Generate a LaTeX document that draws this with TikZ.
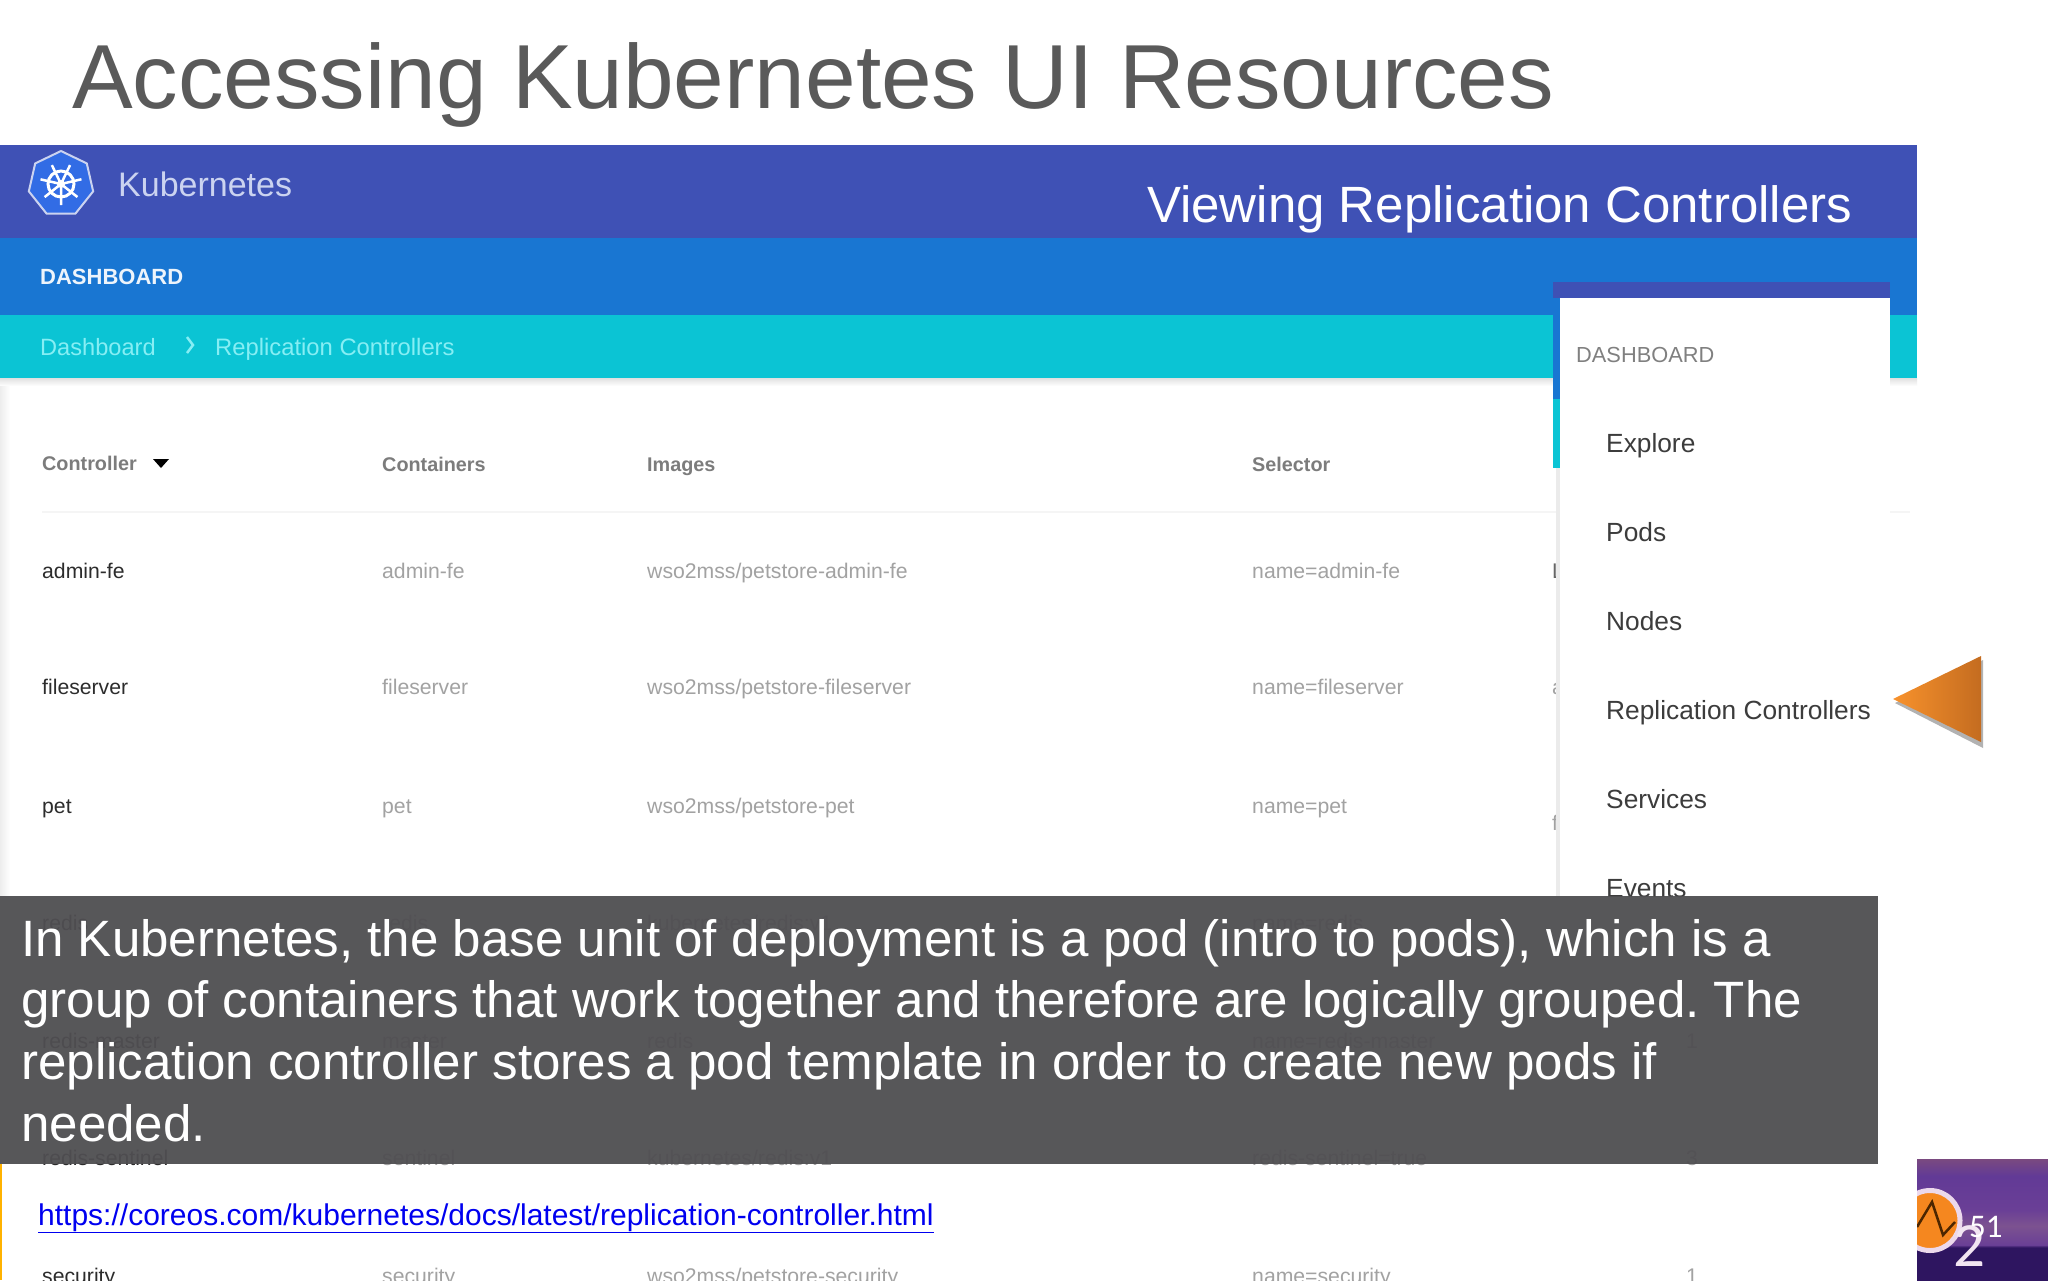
\documentclass[tikz,border=0pt]{standalone}
\usepackage{fontspec}
\setmainfont{Liberation Sans}
\newfontfamily\slidenum{Carlito}
\usetikzlibrary{shapes.geometric,positioning}
\definecolor{barpurple}{HTML}{3F51B5}
\definecolor{barblue}{HTML}{1976D2}
\definecolor{barteal}{HTML}{0BC4D4}
\definecolor{crumb}{HTML}{86EEF4}
\definecolor{capgray}{HTML}{4F4E51}
\definecolor{linkblue}{HTML}{0000F0}
\definecolor{titlegray}{HTML}{5A5A5A}
\definecolor{kubeblue}{HTML}{326CE5}
\definecolor{kubetext}{HTML}{CBD3F0}
\definecolor{rowdark}{HTML}{2C2C2C}
\definecolor{rowgray}{HTML}{A2A2A2}
\definecolor{headgray}{HTML}{7C7C7C}
\definecolor{menutext}{HTML}{3C3C3C}
\definecolor{arrowlight}{HTML}{F8922C}
\definecolor{arrowdark}{HTML}{C46C20}
\definecolor{ringorange}{HTML}{F5871F}
\definecolor{wsodeep}{HTML}{2E1560}
\definecolor{wsomid}{HTML}{6A3F96}
\definecolor{wsoband}{HTML}{7C5290}
\definecolor{wsoviolet}{HTML}{623A96}
\definecolor{wsotop}{HTML}{7A4A80}
\pgfdeclareverticalshading{wsobar}{100bp}{
  color(0bp)=(wsodeep); color(38.5bp)=(wsodeep); color(39.5bp)=(wsomid);
  color(47.5bp)=(wsoband); color(54bp)=(wsomid); color(68bp)=(wsoviolet); color(75bp)=(wsotop); color(100bp)=(wsotop)}
\tikzset{
  headcell/.style={anchor=base west, inner sep=0pt, text=headgray, font=\fontsize{19.8}{24}\selectfont\bfseries},
  namecell/.style={anchor=base west, inner sep=0pt, text=rowdark, font=\fontsize{21.2}{24}\selectfont},
  rowcell/.style={anchor=base west, inner sep=0pt, text=rowgray, font=\fontsize{21.2}{24}\selectfont},
  menuitem/.style={anchor=base west, inner sep=0pt, text=menutext, font=\fontsize{26.3}{30}\selectfont},
}
\begin{document}
\frenchspacing
\begin{tikzpicture}[x=1pt, y=-1pt]
\useasboundingbox (0,0) rectangle (2048,1280);
\clip (0,0) rectangle (2048,1280);
\fill [white] (0,0) rectangle (2048,1280);
% title
\node (title) [anchor=base west, inner sep=0pt, text=titlegray, font=\fontsize{91}{100}\selectfont] at (72,108) {Accessing Kubernetes UI Resources};
% header bars
\fill [barpurple] (0,145) rectangle (1917,238);
\fill [barblue] (0,238) rectangle (1917,315);
\fill [barteal] (0,315) rectangle (1917,378);
\shade [top color=black!12, bottom color=white] (0,378) rectangle (1917,386);
\shade [left color=black!7, right color=white] (0,386) rectangle (10,896);
\node (logo) [regular polygon, regular polygon sides=7, draw=kubetext, line width=2pt, fill=kubeblue, minimum size=66pt, inner sep=0pt] at (61,184) {};
\draw [white, line width=3pt] (logo.center) circle (13);
\foreach \a in {90,141.4,...,450} {
  \draw [white, line width=2.5pt] (logo.center) -- ++(\a:21);
}
\fill [white] (logo.center) circle (4);
\node (kube) [anchor=base west, inner sep=0pt, text=kubetext, font=\fontsize{34}{38}\selectfont] at (118,196) {Kubernetes};
\node (view) [anchor=base west, inner sep=0pt, text=white, font=\fontsize{51}{60}\selectfont] at (1147,222) {Viewing Replication Controllers};
\node (dash) [anchor=base west, inner sep=0pt, text=white!92!barblue, font=\fontsize{22}{26}\selectfont\bfseries] at (40,284) {DASHBOARD};
\node (crumba) [anchor=base west, inner sep=0pt, text=crumb, font=\fontsize{23.6}{28}\selectfont] at (40,355) {Dashboard};
\draw [crumb, line width=2.5pt] (187,337) -- (193,345) -- (187,353);
\node (crumbb) [anchor=base west, inner sep=0pt, text=crumb, font=\fontsize{23.8}{28}\selectfont] at (215,355) {Replication Controllers};
% table
\node (hcontroller) [headcell] at (42,470) {Controller};
\fill [black] (153,459) -- (169,459) -- (161,468) -- cycle;
\node (hcontainers) [headcell] at (382,471) {Containers};
\node (himages) [headcell] at (647,471) {Images};
\node (hselector) [headcell] at (1252,471) {Selector};
\draw [black!4, line width=1.5pt] (42,512) -- (1910,512);
\foreach \y/\n/\c/\i/\s/\k in {
  578/admin-fe/admin-fe/wso2mss\slash petstore-admin-fe/name=admin-fe/,
  694/fileserver/fileserver/wso2mss\slash petstore-fileserver/name=fileserver/,
  813/pet/pet/wso2mss\slash petstore-pet/name=pet/,
  930/redis/redis/kubernetes\slash redis:v1/name=redis/,
  1048/redis-master/master/redis/name=redis-master/1,
  1165/redis-sentinel/sentinel/kubernetes\slash redis:v1/redis-sentinel=true/3,
  1283/security/security/wso2mss\slash petstore-security/name=security/1} {
  \node [namecell] at (42,\y) {\n};
  \node [rowcell] at (382,\y) {\c};
  \node [rowcell] at (647,\y) {\i};
  \node [rowcell] at (1252,\y) {\s};
  \node [rowcell] at (1686,\y) {\k};
}
\node (clipl) [namecell, text=black!60] at (1552,578) {L};
\node (clipa) [rowcell] at (1552,694) {a};
\node (clipf) [rowcell] at (1552,830) {f};
% dropdown menu
\fill [barpurple] (1553,282) rectangle (1890,298);
\fill [barblue] (1553,298) rectangle (1560,399);
\fill [barteal] (1553,399) rectangle (1560,468);
\fill [black!8] (1556,468) rectangle (1560,896);
\fill [white] (1560,298) rectangle (1890,896);
\node (mdash) [anchor=base west, inner sep=0pt, text=black!50, font=\fontsize{21.8}{25}\selectfont] at (1576,362) {DASHBOARD};
\node (mexplore) [menuitem] at (1606,452) {Explore};
\node (mpods) [menuitem] at (1606,541) {Pods};
\node (mnodes) [menuitem] at (1606,630) {Nodes};
\node (mrc) [menuitem] at (1606,719) {Replication Controllers};
\node (mservices) [menuitem] at (1606,808) {Services};
\node (mevents) [menuitem] at (1606,897) {Events};
% pointer
\fill [black!30] (1895,703) -- (1983,660) -- (1983,748) -- cycle;
\shade [left color=arrowlight, right color=arrowdark] (1893,699) -- (1981,656) -- (1981,742) -- cycle;
% caption
\fill [capgray, opacity=0.95] (0,896) rectangle (1878,1164);
\node (caption) [anchor=north west, inner sep=0pt, text=white, align=left, font=\fontsize{51.1}{61.7}\selectfont] at (21,919) {In Kubernetes, the base unit of deployment is a pod (intro to pods), which is a\\group of containers that work together and therefore are logically grouped. The\\replication controller stores a pod template in order to create new pods if\\needed.};
\node (link) [anchor=base west, inner sep=0pt, text=linkblue, font=\fontsize{30}{34}\selectfont] at (38,1225) {\underline{https://coreos.com/kubernetes/docs/latest/replication-controller.html}};
\fill [orange!60!yellow] (0,1164) rectangle (2,1280);
% corner logo
\shade [shading=wsobar] (1917,1159) rectangle (2048,1280);
\begin{scope}
\clip (1917,1159) rectangle (2048,1280);
\draw [white!85!violet, line width=5pt, fill=ringorange] (1930,1220.5) circle (30);
\draw [black!70!orange, line width=2.5pt] (1917,1227) -- (1932,1202) -- (1943,1235) -- (1955,1222);
\end{scope}
\node (sub) [anchor=base west, inner sep=0pt, text=white!90!violet, font=\slidenum\fontsize{63}{70}\selectfont] at (1953,1266) {2};
\node (num) [anchor=base west, inner sep=0pt, text=white, font=\slidenum\fontsize{33}{38}\selectfont] at (1969,1237) {51};
\end{tikzpicture}
\end{document}
